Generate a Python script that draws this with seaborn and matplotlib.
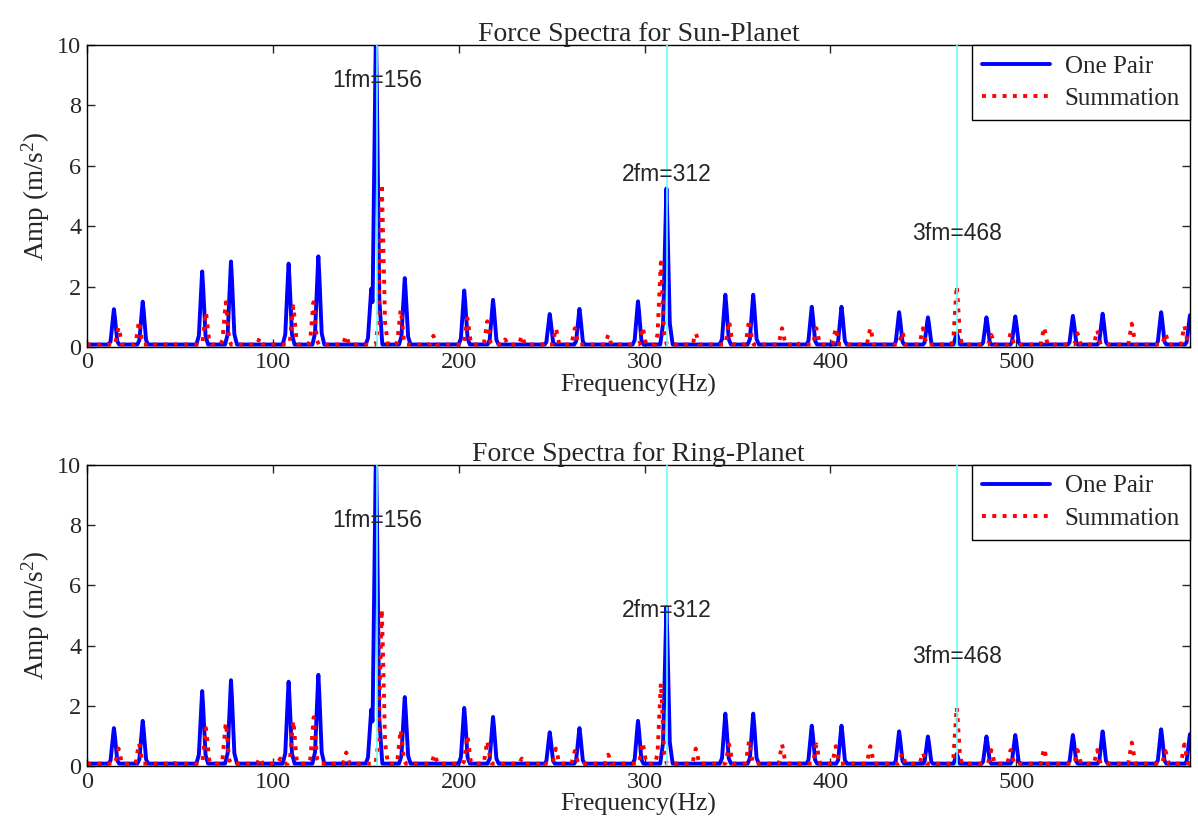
import numpy as np
import pandas as pd
import matplotlib
matplotlib.use('Agg')
import matplotlib.pyplot as plt
import seaborn as sns

# ===== DONNEES (pics) =====
# One Pair : raies communes aux deux spectres (Hz)
pair_freq = [14.5, 30, 62, 77.5, 108.5, 124.5, 153, 155.5, 171, 203, 218.5, 249, 265,
             296.5, 311.8, 343.5, 358.5, 390, 406, 437, 452.5, 468, 484, 499.5, 530.5,
             546.5, 578, 593.5]
sun_pair_amp = [1.25, 1.5, 2.5, 2.83, 2.76, 3.0, 1.93, 10.5, 2.28, 1.87, 1.56, 1.09, 1.26,
                1.51, 5.25, 1.73, 1.73, 1.33, 1.33, 1.15, 0.98, 0.45, 0.98, 1.01, 1.03,
                1.1, 1.15, 1.05]
ring_pair_amp = [1.26, 1.5, 2.49, 2.85, 2.8, 3.03, 1.88, 10.5, 2.29, 1.93, 1.63, 1.12, 1.26,
                 1.5, 5.28, 1.74, 1.74, 1.34, 1.34, 1.15, 0.98, 0.4, 0.98, 1.03, 1.03,
                 1.15, 1.22, 1.06]

# Summation
sun_sum_freq = [8, 17, 28, 33, 64, 74.7, 93, 111, 121.9, 139.4, 158.6, 168.8, 186.4, 204.7,
                215.4, 225, 234, 246, 252.3, 262.5, 280.5, 299, 308.8, 327.6, 345.5, 356.3,
                374, 382, 392.5, 402.9, 421.5, 438.7, 449.8, 468, 486.6, 497, 515, 533,
                543.6, 562.2, 580.3, 590.5]
sun_sum_amp = [0.1, 0.65, 0.85, 0.12, 1.15, 1.48, 0.3, 1.35, 1.48, 0.37, 5.4, 1.23, 0.37, 0.95,
               0.85, 0.25, 0.37, 0.12, 0.62, 0.62, 0.4, 0.65, 2.8, 0.45, 0.85, 0.9,
               0.62, 0.15, 0.62, 0.62, 0.63, 0.5, 0.62, 2.02, 0.4, 0.45, 0.65, 0.45,
               0.55, 0.77, 0.45, 0.7]

ring_sum_freq = [17, 28, 47, 64, 74.7, 93, 104, 111, 122, 139.5, 158.6, 168.8, 187, 204.7,
                 215.4, 234, 245, 252.3, 262.5, 280.5, 299, 308.8, 327.6, 345.5, 356.3,
                 374, 392.5, 402.9, 421.5, 438.7, 449.8, 468, 486.6, 497, 515, 533,
                 543.6, 562.2, 580.3, 590.5]
ring_sum_amp = [0.58, 0.75, 0.1, 1.26, 1.43, 0.27, 0.25, 1.5, 1.62, 0.45, 5.2, 1.2, 0.39, 1.01,
                0.83, 0.25, 0.17, 0.58, 0.5, 0.38, 0.78, 2.75, 0.58, 0.72, 0.83,
                0.72, 0.72, 0.66, 0.66, 0.42, 0.44, 1.95, 0.53, 0.53, 0.58, 0.53,
                0.53, 0.78, 0.5, 0.72]

harmonics = [156, 312, 468]
harm_labels = ['1fm=156', '2fm=312', '3fm=468']
sun_label_y = [8.84, 5.7, 3.77]
ring_label_y = [8.17, 5.18, 3.65]

# ===== FORME D'UNE RAIE =====
base = 0.08
offsets = np.array([-3.5, -1.8, -0.4, 0.0, 0.4, 1.8, 3.5])
rel = np.array([0.0, 0.15, 0.85, 1.0, 0.85, 0.15, 0.0])
freq_grid = np.arange(0, 594, 0.1)


def spectrum(freqs, amps):
    y = np.full_like(freq_grid, base)
    for f, a in zip(freqs, amps):
        y = np.maximum(y, np.interp(freq_grid, f + offsets, a * rel, left=0, right=0))
    return pd.DataFrame({'freq': freq_grid, 'amp': y})


# ===== STYLE =====
sns.set_style("ticks")
plt.rcParams['font.family'] = ['Liberation Serif', 'DejaVu Serif']
plt.rcParams['mathtext.fontset'] = 'custom'
plt.rcParams['mathtext.rm'] = 'Liberation Serif'
plt.rcParams['mathtext.it'] = 'Liberation Serif:italic'

fig = plt.figure(figsize=(11.98, 8.34), dpi=100)
ax1 = fig.add_axes([0.0726, 0.584, 0.9207, 0.362])
ax2 = fig.add_axes([0.0726, 0.0815, 0.9207, 0.361])

panels = [
    (ax1, sun_pair_amp, sun_sum_freq, sun_sum_amp, sun_label_y, 'Force Spectra for Sun-Planet'),
    (ax2, ring_pair_amp, ring_sum_freq, ring_sum_amp, ring_label_y, 'Force Spectra for Ring-Planet'),
]

for ax, pair_amp, sum_freq, sum_amp, label_y, title in panels:
    df_pair = spectrum(pair_freq, pair_amp)
    df_sum = spectrum(sum_freq, sum_amp)
    sns.lineplot(data=df_pair, x='freq', y='amp', ax=ax, color='#0000ff', lw=2.8,
                 estimator=None, label='One Pair', zorder=2)
    sns.lineplot(data=df_sum, x='freq', y='amp', ax=ax, color='#ff0000', lw=2.8,
                 linestyle=':', estimator=None, label='Summation', zorder=2.5)
    for h in harmonics:
        ax.axvline(h, color='#66ffff', lw=1.4, alpha=0.85, zorder=3)
    for h, lab, ly in zip(harmonics, harm_labels, label_y):
        ax.text(h, ly, lab, ha='center', va='center', fontsize=16.5,
                family=['Liberation Sans', 'DejaVu Sans'], zorder=4)

    ax.set_xlim(0, 593.5)
    ax.set_ylim(0, 10)
    ax.set_xticks([0, 100, 200, 300, 400, 500])
    ax.set_yticks([0, 2, 4, 6, 8, 10])
    ax.tick_params(direction='in', top=True, right=True, length=6, width=1,
                   labelsize=17.5, pad=4)
    for s in ax.spines.values():
        s.set_linewidth(1)
        s.set_color('black')
    ax.set_title(title, fontsize=20, pad=3)
    ax.set_xlabel('Frequency(Hz)', fontsize=18.5, labelpad=0)
    ax.set_ylabel('Amp (m/s$^2$)', fontsize=19.5, labelpad=4)
    leg = ax.legend(loc='upper right', fontsize=18, frameon=True, fancybox=False,
                    framealpha=1, edgecolor='black', borderaxespad=0, handlelength=2.7,
                    borderpad=0.4, labelspacing=0.4, handletextpad=0.6)
    leg.get_frame().set_linewidth(1)

plt.savefig('out.png', dpi=100)
